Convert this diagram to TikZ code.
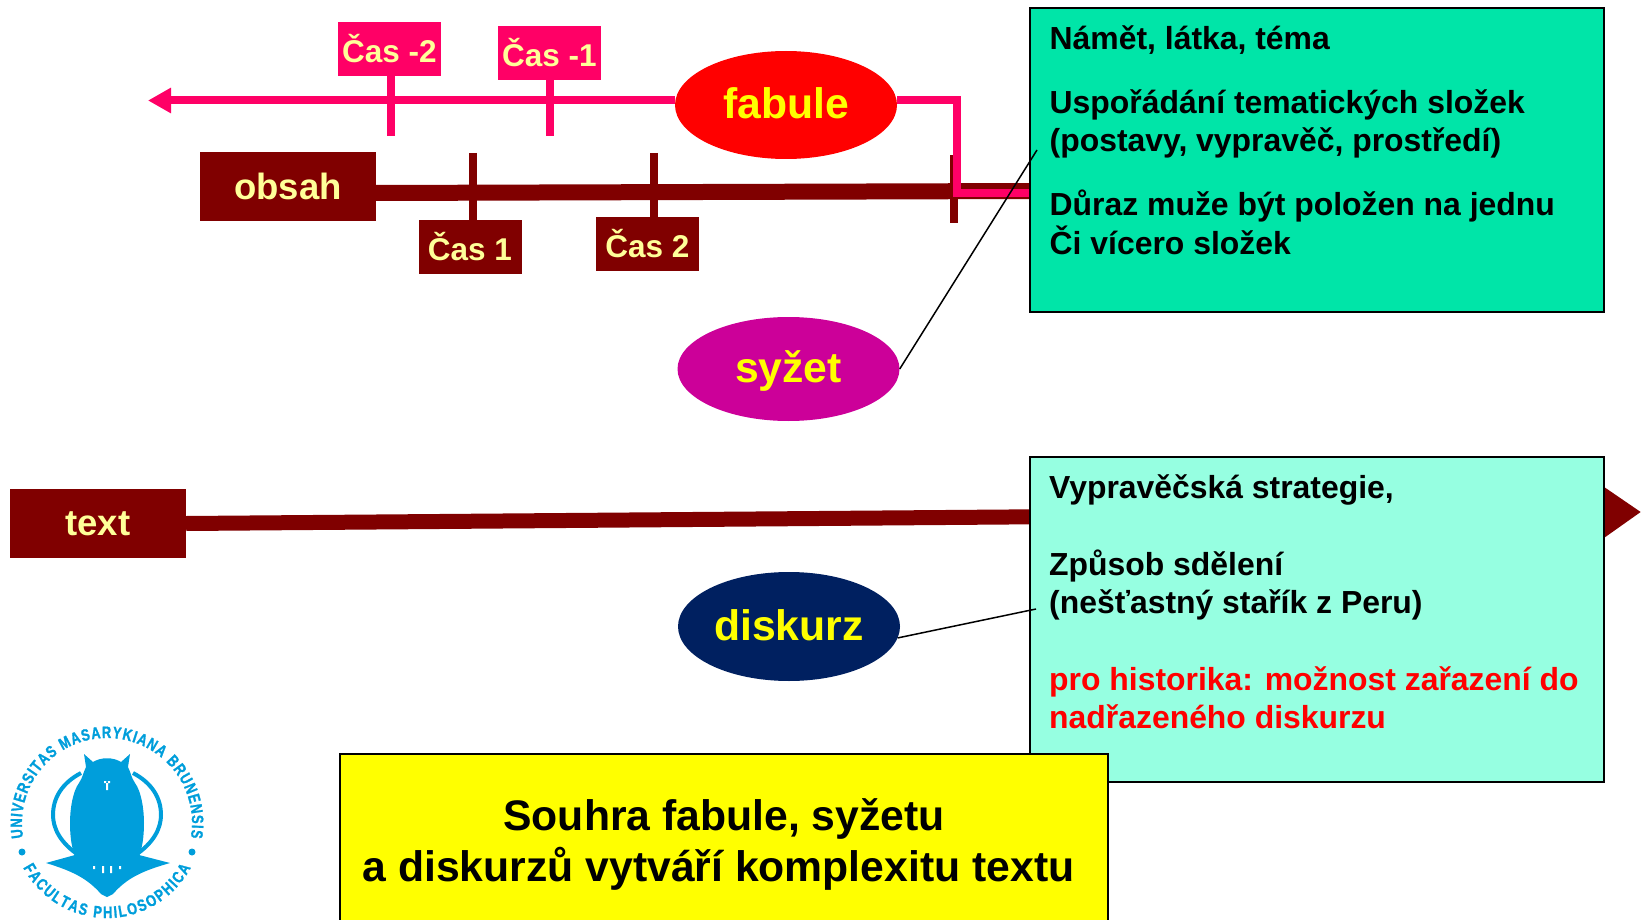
\documentclass[tikz,border=0pt]{standalone}
\usepackage{fontspec}
\setmainfont{Liberation Sans}
\newfontfamily\logofont[FakeStretch=0.78, FakeBold=1.2]{Liberation Sans}
\usetikzlibrary{shapes.geometric, arrows.meta, decorations.text}

\definecolor{pinkline}{HTML}{FF0066}
\definecolor{brownline}{HTML}{800000}
\definecolor{cream}{HTML}{FFFF99}
\definecolor{tealbox}{HTML}{00E5A8}
\definecolor{mintbox}{HTML}{96FFE1}
\definecolor{syzetfill}{HTML}{CC0099}
\definecolor{diskurzfill}{HTML}{002060}
\definecolor{logoblue}{HTML}{009EDB}
\definecolor{zluta}{HTML}{FFFF00}

\tikzset{
	popis/.style={inner sep=0pt, text=cream, font=\bfseries\fontsize{#1}{#1}\selectfont},
	casbox/.style={popis=31.5, minimum width=103pt, minimum height=54pt},
	hlavni/.style={popis=36.5, fill=brownline, minimum width=176pt, minimum height=69pt},
	oval/.style={ellipse, inner sep=0pt, text=zluta, text height=35pt, text depth=8pt, font=\bfseries\fontsize{42.7}{42.7}\selectfont, minimum width=222pt, minimum height=#1},
	bigbox/.style={draw=black, line width=2pt, anchor=north west, minimum width=574pt, inner sep=0pt},
	boxtext/.style={anchor=north west, inner sep=0pt, align=left, font=\bfseries\fontsize{31.9}{38.3}\selectfont},
	logotext/.style={decorate, decoration={text along path, text align={fit to path}, text color=logoblue, text={|\logofont\bfseries\fontsize{16.5}{16.5}\selectfont|#1}}},
}

\begin{document}
\begin{tikzpicture}[x=1pt, y=-1pt]
	\useasboundingbox (0,0) rectangle (1641,920);
	\clip (0,0) rectangle (1641,920);

	\node[hlavni] (obsah) at (288,186.5) {obsah};
	\node[casbox, fill=brownline] (cas1) at (470,247) {Čas 1};
	\node[casbox, fill=brownline] (cas2) at (647.5,244) {Čas 2};
	\node[casbox, fill=pinkline] (casm2) at (389.5,49) {Čas -2};
	\node[casbox, fill=pinkline] (casm1) at (549.5,53) {Čas -1};
	\node[hlavni] (text) at (98,523.5) {text};

	\coordinate (tipm2) at (390.5,136);
	\coordinate (tipm1) at (549.5,136);
	\coordinate (tip1) at (473,153);
	\coordinate (tip2) at (654,153);
	\coordinate (tip3a) at (953.5,155);
	\coordinate (tip3b) at (953.5,223);
	\coordinate (past) at (148,100.5);
	\coordinate (future) at (1641,512);
	\coordinate (obsahend) at (1030,191);

	% text line runs behind the lower box
	\draw[brownline, line width=15pt, -{Triangle[length=36pt, width=47pt]}] (text.east) -- (future);

	\node[oval=108pt, fill=red] (fabule) at (786,105) {fabule};
	\node[oval=104pt, fill=syzetfill] (syzet) at (788.5,369) {syžet};
	\node[oval=109pt, fill=diskurzfill] (diskurz) at (789,626.5) {diskurz};

	\draw[brownline, line width=16pt] ([yshift=-6.5pt]obsah.east) -- (obsahend);
	\draw[brownline, line width=8pt] (tip1) -- (tip1 |- cas1.north);
	\draw[brownline, line width=8pt] (tip2) -- (tip2 |- cas2.north);
	\draw[brownline, line width=8pt] (tip3a) -- (tip3b);

	\draw[pinkline, line width=8pt, -{Triangle[length=23pt, width=24pt]}] ([yshift=4.5pt]fabule.west) -- (past);
	\draw[pinkline, line width=8pt] (casm2.south -| tipm2) -- (tipm2);
	\draw[pinkline, line width=8pt] (casm1.south -| tipm1) -- (tipm1);
	\draw[pinkline, line width=8pt] ([yshift=5pt]fabule.east) -| (957,192.7) -- (1030,192.7);

	\node[bigbox, fill=tealbox, minimum height=304pt] (nametbox) at (1029,7) {};
	\node[boxtext] (namettext) at (1049.5,25) {Námět, látka, téma\\[26pt]
		Uspořádání tematických složek\\
		(postavy, vypravěč, prostředí)\\[26pt]
		Důraz muže být položen na jednu\\
		Či vícero složek};

	\node[bigbox, fill=mintbox, minimum height=325pt] (vypravecbox) at (1029,456) {};
	\node[boxtext] (vypravectext) at (1049,474.5) {Vypravěčská strategie,\\[38.3pt]
		Způsob sdělení\\
		(nešťastný stařík z Peru)\\[38.3pt]
		\textcolor{red}{pro historika: možnost zařazení do}\\
		\textcolor{red}{nadřazeného diskurzu}};

	\node[draw=black, line width=2pt, fill=zluta, anchor=north west, minimum width=768pt, minimum height=180pt, inner sep=0pt, align=center, font=\bfseries\fontsize{42.7}{51}\selectfont] (souhra) at (339,753) {Souhra fabule, syžetu\\a diskurzů vytváří komplexitu textu\hspace*{11pt}};

	\coordinate (syzetend) at (1037,150);
	\coordinate (diskurzend) at (1036,609);
	\draw[black, line width=1.5pt] (syzet.east) -- (syzetend);
	\draw[black, line width=1.5pt] (diskurz.-6.5) -- (diskurzend);

	% logo
	\begin{scope}[shift={(107,823)}, x=1pt, y=1pt]
		\fill[logoblue] (-23,69) -- (-14,61) .. controls (-6,66) and (6,66) .. (14,61) -- (23,69) -- (21,56) .. controls (24,50) and (24,46) .. (28,40) .. controls (34,32) and (37,15) .. (37,0) .. controls (37,-15) and (35,-28) .. (30,-38) -- (-30,-38) .. controls (-35,-28) and (-37,-15) .. (-37,0) .. controls (-37,15) and (-34,32) .. (-28,40) .. controls (-24,46) and (-24,50) .. (-21,56) -- cycle;
		\draw[logoblue, line width=4pt] (-27,-33) .. controls (-47,-20) and (-54,-5) .. (-54,8) .. controls (-54,25) and (-45,40) .. (-26,50);
		\draw[logoblue, line width=4pt] (27,-33) .. controls (47,-20) and (54,-5) .. (54,8) .. controls (54,25) and (45,40) .. (26,50);
		\fill[logoblue] (-61,-40) -- (-32,-32) -- (32,-32) -- (63,-40) .. controls (35,-48) and (20,-55) .. (6,-71) -- (0,-74) -- (-6,-71) .. controls (-20,-55) and (-35,-48) .. (-61,-40) -- cycle;
		\fill[white] (-14,-43) rectangle (-12,-46) (-5,-43) rectangle (-3,-50) (3,-43) rectangle (5,-50) (12,-43) rectangle (14,-46);
		\fill[white] (-3,40) rectangle (3,42) (-1,42) rectangle (1,33);
		\fill[logoblue] (-85,-29) circle (3.5pt) (85,-29) circle (3.5pt);
		\path[logotext=UNIVERSITAS MASARYKIANA BRUNENSIS] (190:85) arc[start angle=190, end angle=-10, radius=85pt];
		\path[logotext=FACULTAS PHILOSOPHICA] (208:95) arc[start angle=208, end angle=332, radius=95pt];
	\end{scope}
\end{tikzpicture}
\end{document}
